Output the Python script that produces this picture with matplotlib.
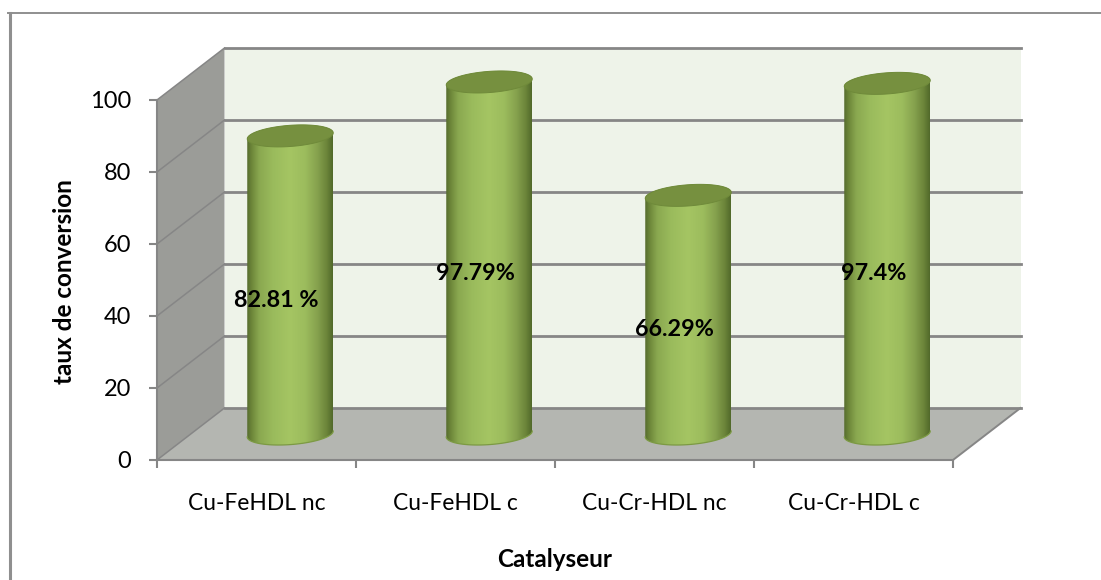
import matplotlib
matplotlib.use('Agg')
import matplotlib.pyplot as plt
import numpy as np
from matplotlib.colors import LinearSegmentedColormap
from matplotlib.lines import Line2D
from matplotlib.patches import Polygon

# Conversion rate per catalyst
categories = ['Cu-FeHDL nc', 'Cu-FeHDL c', 'Cu-Cr-HDL nc', 'Cu-Cr-HDL c']
conversion = [82.81, 97.79, 66.29, 97.4]
value_labels = ['82.81 %', '97.79%', '66.29%', '97.4%']
y_ticks = [0, 20, 40, 60, 80, 100]

plt.rcParams['font.family'] = ['Lato', 'DejaVu Sans']

W, H = 1101, 580
fig = plt.figure(figsize=(W / 100, H / 100), dpi=100)
ax = fig.add_axes([157 / W, (H - 460) / H, 796 / W, 360 / H])
ax.set_facecolor('none')

# Depth of the 3D box, in axis units
depth_x = 67.5 / 199
depth_y = 52 / 3.6
n = len(categories)

grid_color = '#868686'

# Walls and floor
ax.add_patch(Polygon([(depth_x, depth_y), (n + depth_x, depth_y), (n + depth_x, 100 + depth_y), (depth_x, 100 + depth_y)],
                     facecolor='#eef3e9', edgecolor='none', zorder=1, clip_on=False))
ax.add_patch(Polygon([(0, 0), (depth_x, depth_y), (depth_x, 100 + depth_y), (0, 100)],
                     facecolor='#9b9c98', edgecolor='none', zorder=1, clip_on=False))
ax.add_patch(Polygon([(0, 0), (n, 0), (n + depth_x, depth_y), (depth_x, depth_y)],
                     facecolor='#b4b6b1', edgecolor='none', zorder=1, clip_on=False))

# Gridlines run along the left wall and across the back wall
for v in y_ticks:
    ax.plot([0, depth_x], [v, v + depth_y], color=grid_color, lw=1.1, zorder=2, clip_on=False)
    ax.plot([depth_x, n + depth_x], [v + depth_y, v + depth_y], color=grid_color, lw=2.0, zorder=2, clip_on=False)
ax.plot([n, n + depth_x], [0, depth_y], color=grid_color, lw=1.4, zorder=2, clip_on=False)

# Cylinders
half_w = 43 / 199
ell_b = 10.6 / 3.6
ell_s = 3 / 3.6
base = 26 / 3.6
shade = LinearSegmentedColormap.from_list('cyl', [
    (0.00, '#566c2e'), (0.05, '#6c8639'), (0.14, '#8aa850'), (0.30, '#9abb5c'),
    (0.50, '#a5c563'), (0.68, '#9cbc5d'), (0.82, '#86a24e'), (0.93, '#6c853a'),
    (1.00, '#526a2b')])
t_low = np.linspace(np.pi, 2 * np.pi, 60)
t_up = np.linspace(0, np.pi, 60)


def ring(cx, cy, t):
    return np.column_stack([cx + half_w * np.cos(t), cy + ell_b * np.sin(t) + ell_s * np.cos(t)])


for i, v in enumerate(conversion):
    cx = i + 0.5 + depth_x / 2
    top = base + v
    body = Polygon(np.vstack([ring(cx, base, t_low), ring(cx, top, t_up)]), closed=True,
                   facecolor='none', edgecolor='none', transform=ax.transData, zorder=3, clip_on=False)
    ax.add_patch(body)
    im = ax.imshow(np.linspace(0, 1, 128).reshape(1, -1), cmap=shade, aspect='auto',
                   extent=[cx - half_w, cx + half_w, base - ell_b - 1, top + ell_b + 1],
                   interpolation='bilinear', zorder=3)
    im.set_clip_path(body)
    im.set_clip_box(fig.bbox)
    low = ring(cx, base, t_low)
    ax.plot(low[:, 0], low[:, 1], color='#7c9a43', lw=0.9, zorder=3.1, clip_on=False)
    ax.add_patch(Polygon(ring(cx, top, np.linspace(0, 2 * np.pi, 120)), closed=True,
                         facecolor='#76903f', edgecolor='#6f8a3a', lw=0.7, zorder=3.2, clip_on=False))
    ax.text(i + 0.5 + 0.1, v / 2 + 3.0, value_labels[i], ha='center', va='center',
            fontsize=16.8, fontweight='bold', color='black', zorder=5, clip_on=False)

ax.set_xlim(0, n)
ax.set_ylim(0, 100)

# Axes
for side in ['top', 'right']:
    ax.spines[side].set_visible(False)
for side in ['left', 'bottom']:
    ax.spines[side].set_color(grid_color)
    ax.spines[side].set_linewidth(1.5)
ax.set_yticks(y_ticks)
ax.set_xticks(range(n + 1))
ax.set_xticklabels([])
ax.set_xticks(np.arange(n) + 0.5, categories, minor=True)
ax.tick_params(axis='x', which='major', length=6, width=1.5, color=grid_color)
ax.tick_params(axis='x', which='minor', length=0, pad=24, labelsize=16.4)
ax.tick_params(axis='y', length=6, width=1.5, color=grid_color, labelsize=17, pad=12.5)

ax.set_xlabel('Catalyseur', fontsize=17.5, fontweight='bold')
ax.xaxis.set_label_coords(0.5, -0.245)
ax.set_ylabel('taux de conversion', fontsize=17.5, fontweight='bold')
ax.yaxis.set_label_coords(-0.102, 0.497)

# Outer frame: left and top edges only
fig.add_artist(Line2D([9.5 / W, 9.5 / W], [0, 1 - 12.5 / H], color='#8f8f8f', lw=2.2))
fig.add_artist(Line2D([8 / W, 1], [1 - 13 / H, 1 - 13 / H], color='#8f8f8f', lw=1.4))

plt.savefig('out.png', dpi=100)
